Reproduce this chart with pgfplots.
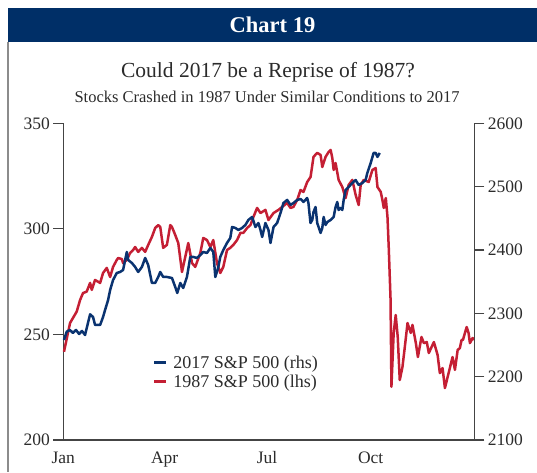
\documentclass[border=0pt]{standalone}
\usepackage{fontspec}
\setmainfont{Liberation Serif}
\usepackage{pgfplots}
\pgfplotsset{compat=1.18}
\definecolor{navy}{HTML}{002F67}
\definecolor{lineblue}{HTML}{0A3370}
\definecolor{linered}{HTML}{C41F34}
\definecolor{axgray}{HTML}{444444}
\definecolor{txtgray}{HTML}{2B2B2B}
\begin{document}
\begin{tikzpicture}[x=1pt,y=1pt]
\useasboundingbox (0,0) rectangle (537,472);
\fill[navy] (8,464) rectangle (537,430);
\draw[black!45, line width=1.2pt] (8,430) -- (8,0);
\node[white,font=\bfseries\fontsize{22.5}{26}\selectfont] at (272.5,447) {Chart 19};
\node[txtgray,font=\fontsize{21.5}{25}\selectfont] at (268,400) {Could 2017 be a Reprise of 1987?};
\node[txtgray,font=\fontsize{16.5}{19}\selectfont] at (267,375) {Stocks Crashed in 1987 Under Similar Conditions to 2017};
\pgfplotsset{
  base/.style={
    at={(63.3pt,32pt)}, anchor=south west,
    width=411pt, height=316.7pt, scale only axis,
    xmin=0, xmax=365,
    xtick={0,90,181,273}, xticklabels={Jan,Apr,Jul,Oct},
    x tick style={draw=none},
    tick align=outside, major tick length=10pt,
    axis line style={axgray, line width=1.1pt},
    tick style={axgray, line width=1.1pt},
    ticklabel style={font=\fontsize{17.5}{20}\selectfont, text=txtgray},
    /pgf/number format/assume math mode=true,
    /pgf/number format/1000 sep={},
    clip=false,
  }
}
\begin{axis}[base,
  ymin=200, ymax=350, ytick={200,250,300,350},
  axis y line*=left, axis x line*=bottom,
  xticklabel style={yshift=2pt},
]
\addplot[linered, line width=2.5pt, line join=round] coordinates {
(0.6,241.8)(6.0,255.4)(7.5,256.8)(11.9,260.8)(14.9,266.3)(17.5,269.6)(20.8,270.3)(23.8,274.4)(25.3,271.1)(28.2,275.8)
(32.7,274.4)(35.3,279.1)(38.6,281.5)(41.6,277.2)(44.2,282.0)(47.5,285.3)(48.7,286.2)(52.0,285.7)(53.1,283.8)(56.4,285.3)
(59.3,288.6)(62.0,290.0)(63.8,291.4)(66.5,289.1)(69.8,291.0)(72.7,289.1)(75.4,292.4)(78.7,296.2)(81.6,300.4)(84.3,301.8)
(86.1,300.9)(88.7,291.0)(92.0,292.4)(95.0,301.8)(96.5,300.9)(99.4,297.1)(102.1,293.3)(105.4,279.6)(108.3,286.7)(111.0,293.3)
(114.3,283.8)(117.2,282.0)(121.7,288.6)(124.3,295.7)(127.6,294.7)(130.6,291.4)(133.2,294.7)(136.5,283.8)(139.4,279.1)(142.1,282.0)
(145.4,290.0)(148.3,291.0)(151.0,292.4)(154.3,294.7)(157.3,298.1)(159.9,298.1)(163.2,300.4)(166.2,301.8)(168.8,305.6)(172.1,309.9)
(175.1,307.5)(179.5,309.0)(182.2,304.2)(186.7,307.5)(191.1,309.0)(194.4,310.4)(198.8,312.3)(201.8,309.9)(204.4,310.4)(207.7,313.7)
(210.7,318.4)(213.3,317.5)(216.6,322.2)(219.6,324.6)(222.2,334.1)(225.5,336.0)(228.5,335.0)(230.0,329.3)(232.9,334.1)(235.6,336.4)
(237.4,337.4)(238.9,333.6)(240.1,327.9)(241.8,331.2)(244.5,323.2)(247.8,319.8)(250.7,314.6)(253.4,320.8)(256.7,323.2)(259.6,316.1)
(262.3,311.3)(264.1,320.8)(266.8,323.2)(271.2,322.2)(274.5,327.9)(277.4,328.8)(279.0,319.8)(281.9,317.5)(283.4,313.7)(284.6,309.9)
(286.4,314.6)(287.9,305.6)(289.0,291.4)(290.6,267.0)(291.4,225.2)(293.4,250.7)(295.2,259.2)(297.0,248.8)(298.8,228.4)(301.2,234.6)
(303.3,244.1)(305.7,255.4)(308.6,250.7)(310.1,254.5)(313.1,245.9)(314.9,239.3)(318.1,248.8)(320.2,245.9)(322.8,246.4)(324.6,241.2)
(329.1,246.4)(332.4,240.3)(334.4,231.7)(336.8,234.1)(338.9,224.6)(342.4,232.2)(345.7,239.3)(347.8,233.2)(350.2,242.6)(352.2,243.6)
(353.7,247.4)(354.9,247.4)(358.2,253.5)(359.9,250.7)(361.1,245.9)(363.5,248.3)(364.7,247.4)
};
\end{axis}
\begin{axis}[base,
  ymin=2100, ymax=2600, ytick={2100,2200,...,2600},
  axis y line*=right, axis x line=none,
  legend style={at={(0.21,0.28)}, anchor=north west, draw=none, fill=none,
    font=\fontsize{18}{21}\selectfont, text=txtgray, row sep=1pt,
    nodes={inner sep=2pt},
    /tikz/every odd column/.append style={column sep=4pt}},
  legend cell align=left,
  legend image code/.code={\draw (0pt,0pt) -- (12pt,0pt);},
]
\addplot[lineblue, line width=2.5pt, line join=round] coordinates {
(0.6,2257.9)(3.0,2271.0)(5.9,2273.7)(8.6,2269.0)(11.3,2273.7)(14.0,2267.4)(16.6,2272.1)(19.3,2265.8)(23.8,2298.5)(26.4,2294.2)
(28.2,2281.6)(32.7,2281.6)(35.3,2294.2)(37.1,2305.3)(39.8,2321.1)(41.6,2336.9)(44.2,2352.6)(47.5,2363.7)(50.5,2365.3)(53.1,2368.4)
(56.4,2396.9)(57.6,2384.2)(60.9,2379.5)(63.8,2373.2)(66.5,2365.3)(69.8,2373.2)(72.7,2387.4)(75.4,2376.3)(78.7,2347.9)(81.6,2347.9)
(84.3,2357.4)(86.1,2365.3)(88.7,2357.4)(92.0,2357.4)(96.5,2355.8)(99.4,2341.6)(101.2,2332.1)(103.9,2347.9)(106.5,2340.0)(109.8,2357.4)
(112.8,2389.0)(115.4,2389.0)(118.7,2387.4)(121.7,2392.1)(124.3,2396.9)(127.6,2395.3)(130.6,2403.2)(133.2,2396.9)(135.0,2357.4)(137.7,2373.2)
(139.4,2389.0)(142.1,2400.0)(145.4,2411.1)(148.3,2419.0)(149.9,2436.3)(152.8,2434.8)(155.5,2431.6)(158.8,2434.8)(161.7,2439.5)(164.4,2447.4)
(167.7,2452.1)(170.6,2436.3)(173.3,2442.6)(175.1,2431.6)(176.6,2420.5)(179.5,2442.6)(182.2,2431.6)(184.0,2411.1)(186.7,2436.3)(189.9,2442.6)
(192.9,2458.4)(195.5,2474.2)(198.8,2479.0)(201.8,2471.1)(204.4,2474.2)(207.7,2479.0)(210.7,2480.5)(213.3,2475.8)(216.6,2482.1)(217.7,2474.2)
(219.5,2442.6)(221.1,2447.4)(222.2,2460.0)(224.0,2467.9)(225.5,2442.6)(226.7,2436.3)(228.5,2426.9)(230.0,2434.8)(231.2,2452.1)(232.9,2439.5)
(234.5,2444.2)(237.4,2447.4)(240.1,2452.1)(241.8,2467.9)(243.3,2475.8)(244.5,2463.2)(246.3,2466.3)(247.8,2463.2)(249.0,2479.0)(250.7,2494.8)
(253.4,2499.5)(256.7,2505.8)(259.6,2510.5)(262.3,2502.6)(265.6,2505.8)(268.5,2510.5)(270.0,2521.6)(273.0,2537.4)(275.6,2553.2)(277.4,2553.2)
(279.0,2546.9)(281.0,2553.2)
};
\addlegendentry{2017 S\&P 500 (rhs)}
\addlegendimage{linered, line width=2.5pt}
\addlegendentry{1987 S\&P 500 (lhs)}
\end{axis}
\end{tikzpicture}
\end{document}
